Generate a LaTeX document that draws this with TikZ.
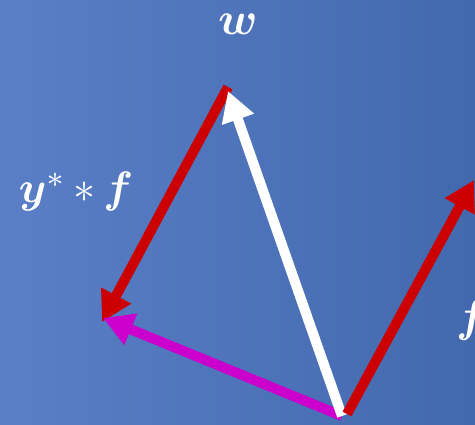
\documentclass[tikz,border=0pt]{standalone}
\usepackage{amsmath,bm}
\usetikzlibrary{arrows.meta}
\definecolor{bgL}{RGB}{90,127,198}
\definecolor{bgR}{RGB}{66,104,174}
\definecolor{vred}{RGB}{204,0,0}
\definecolor{vmag}{RGB}{204,0,204}
\tikzset{
  vec/.style={line width=10pt, line cap=butt, -{Triangle[length=30pt,width=32pt]}},
  lbl/.style={text=white, inner sep=0pt},
}
\begin{document}
\begin{tikzpicture}[x=1pt,y=-1pt]
\useasboundingbox (0,0) rectangle (475,425);
\clip (0,0) rectangle (475,425);
\shade[left color=bgL, right color=bgR] (0,0) rectangle (475,425);
\coordinate (O) at (342,416);
\coordinate (Of) at (347,414);
\coordinate (W) at (228,91);
\coordinate (Wtop) at (228,87);
\coordinate (P) at (102,322);
\coordinate (Pm) at (103,318);
\coordinate (F) at (474,180);
\draw[vec, vred] (Wtop) -- (P);
\draw[vec, vmag] (O) -- (Pm);
\draw[vec, white] (O) -- (W);
\draw[vec, vred] (Of) -- (F);
\node[lbl] (wl) at (238,24) {\scalebox{4.6}{$\bm{w}$}};
\node[lbl] (yl) at (76,192) {\scalebox{4.4}{$\bm{y}^{*}\,{*}\,\bm{f}$}};
\node[lbl, anchor=west] (fl) at (456,320) {\scalebox{4.6}{$\bm{f}$}};
\end{tikzpicture}
\end{document}
